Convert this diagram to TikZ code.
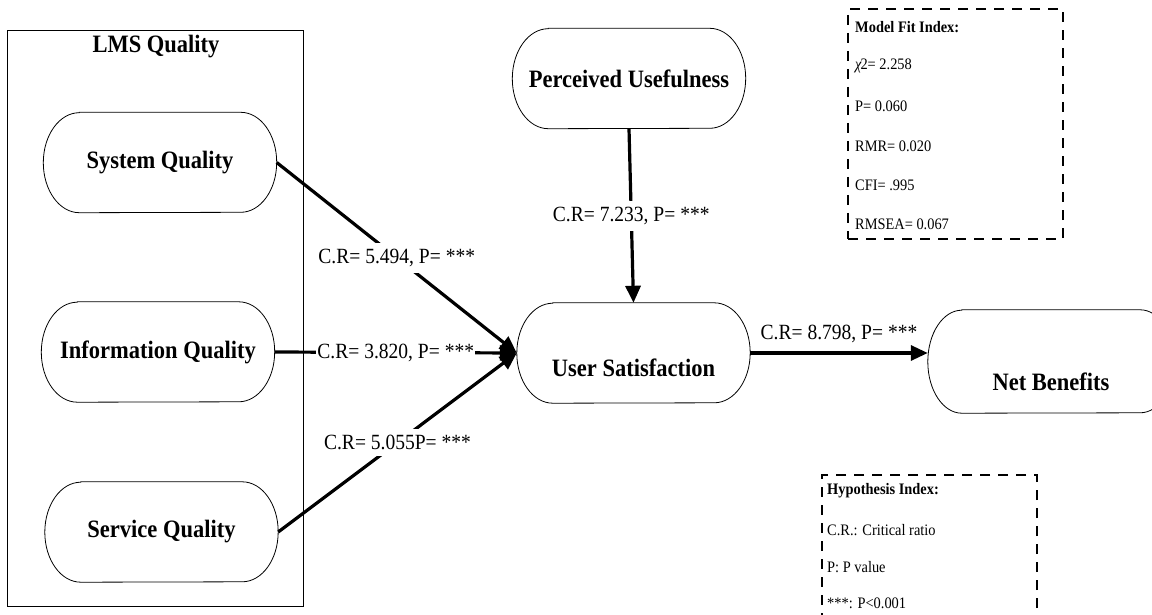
\documentclass[tikz,border=0pt]{standalone}
\usepackage{fontspec}
\setmainfont[FakeStretch=0.9]{Liberation Serif}
\usetikzlibrary{arrows.meta}
\newcommand\nodefont{\fontsize{25}{30}\selectfont\bfseries}
\newcommand\lblfont{\fontsize{21.7}{26}\selectfont}
\newcommand\idxfont{\fontsize{16}{19}\selectfont}
\newcommand\drawstadium[3]{%
  \draw[outline] ([xshift=#2]#1.north west) -- ([xshift=-#2]#1.north east)
    arc[start angle=90,end angle=-90,x radius=#2,y radius=#3]
    -- ([xshift=#2]#1.south west)
    arc[start angle=270,end angle=90,x radius=#2,y radius=#3] -- cycle;}
\begin{document}
\begin{tikzpicture}[x=1pt,y=-1pt,
  outline/.style={line width=0.8pt},
  stadium/.style={minimum width=233pt,minimum height=100pt,inner sep=0pt,font=\nodefont},
  conn/.style={line width=3.2pt,-{Triangle[length=17pt,width=15pt]}},
  onlbl/.style={fill=white,inner xsep=1pt,inner ysep=6pt,font=\lblfont},
  lbl/.style={inner sep=0pt,font=\lblfont},
  idx/.style={anchor=west,inner sep=0pt,font=\idxfont},
  idxhead/.style={anchor=west,inner sep=0pt,font=\idxfont\bfseries},
  dashbox/.style={draw,line width=1.8pt,dash pattern=on 10pt off 8pt,inner sep=0pt}]
\useasboundingbox (0,0) rectangle (1152,615);
\clip (0,0) rectangle (1152,615);
\fill[white] (0,0) rectangle (1152,615);

% LMS Quality group
\node[draw,line width=0.8pt,minimum width=296pt,minimum height=576pt,inner sep=0pt] (lms) at (155,318) {};
\node[font=\nodefont,inner sep=0pt] (lmstitle) at (156,47) {LMS Quality};

% construct nodes
\node[stadium] (sq) at (160,162.5) {System Quality};
\node[stadium] (iq) at (158,352) {Information Quality};
\node[stadium] (serq) at (161.5,532) {Service Quality};
\node[stadium] (pu) at (629,78.5) {Perceived Usefulness};
\node[stadium] (us) at (633.5,353) {};
\node[font=\nodefont,inner sep=0pt] (ustext) at (633.5,368) {User Satisfaction};
\node[stadium,minimum width=246pt,minimum height=103pt] (nb) at (1051,361.5) {};
\node[font=\nodefont,inner sep=0pt] (nbtext) at (1051,382) {Net Benefits};
\foreach \n in {sq,iq,serq,pu,us} {\drawstadium{\n}{36pt}{50pt}}
\drawstadium{nb}{34pt}{51.5pt}

% connectors
\draw[conn] (sq.east) -- node[onlbl] {C.R= 5.494, P= ***} (us.west);
\draw[conn] (iq.east) -- node[onlbl] {C.R= 3.820, P= ***} (us.west);
\draw[conn] (serq.east) -- node[onlbl] {C.R= 5.055P= ***} (us.west);
\draw[conn] (pu.south) -- node[onlbl] {C.R= 7.233, P= ***} (us.north);
\draw[conn] (us.east) -- node[lbl,yshift=19pt] {C.R= 8.798, P= ***} (us.east -| nb.west);

% Model fit index
\node[dashbox,minimum width=215pt,minimum height=230pt] (fit) at (955.5,124) {};
\node[idxhead] (fit0) at (855,27) {Model Fit Index:};
\node[idx] (fit1) at (855,66) {{\itshape χ}\kern-1pt2= 2.258};
\node[idx] (fit2) at (855,106) {P= 0.060};
\node[idx] (fit3) at (855,146) {RMR= 0.020};
\node[idx] (fit4) at (855,185) {CFI= .995};
\node[idx] (fit5) at (855,224) {RMSEA= 0.067};

% Hypothesis index
\node[dashbox,minimum width=215pt,minimum height=170pt] (hyp) at (929.5,560) {};
\node[idxhead] (hyp0) at (827,491) {Hypothesis Index:};
\node[idx] (hyp1) at (827,530) {C.R.: Critical ratio};
\node[idx] (hyp2) at (827,567) {P: P value};
\node[idx] (hyp3) at (827,603) {***: P<0.001};
\end{tikzpicture}
\end{document}
